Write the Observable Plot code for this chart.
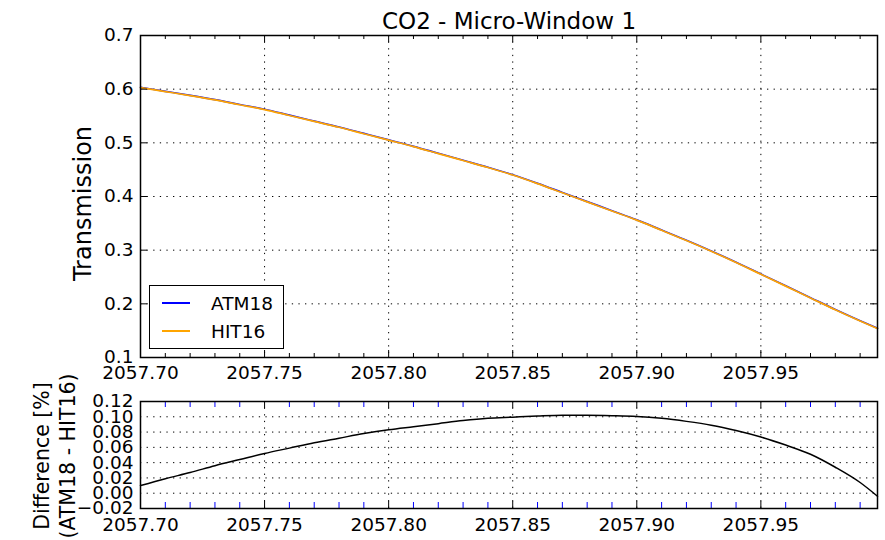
<!DOCTYPE html>
<html>
<head>
<meta charset="utf-8">
<script src="https://cdn.jsdelivr.net/npm/d3@7"></script>
<script src="https://cdn.jsdelivr.net/npm/@observablehq/plot@0.6"></script>
<style>
  html, body { margin: 0; padding: 0; background: white; }
  #wrap { position: relative; width: 885px; height: 540px; font-family: "DejaVu Sans", sans-serif; }
  #wrap svg { display: block; }
  #legend { position: absolute; left: 149px; top: 285px; width: 133px; height: 62px; border: 1.3px solid black; background: white; font-size: 18.5px; }
  .row { position: absolute; left: 0; height: 22px; display: flex; align-items: center; }
  .sw { width: 28px; height: 1.6px; margin-left: 12px; margin-right: 21px; }
</style>
</head>
<body>
<div id="wrap"></div>
<script>
// ---- data ----
const wavenumber = [2057.70,2057.71,2057.72,2057.73,2057.74,2057.75,2057.76,2057.77,2057.78,2057.79,
  2057.80,2057.81,2057.82,2057.83,2057.84,2057.85,2057.86,2057.87,2057.88,2057.89,
  2057.90,2057.91,2057.92,2057.93,2057.94,2057.95,2057.96,2057.97,2057.98,2057.99,2057.997];
const atm18 = [0.6035,0.5960,0.5885,0.5805,0.5715,0.5625,0.5515,0.5405,0.5295,0.5175,
  0.5055,0.4935,0.4805,0.4675,0.4545,0.4405,0.4245,0.4075,0.3905,0.3735,
  0.3565,0.3375,0.3185,0.2985,0.2775,0.2555,0.2335,0.2115,0.1895,0.1685,0.1545];
const hit16 = [0.6030,0.5955,0.5880,0.5800,0.5710,0.5620,0.5510,0.5400,0.5290,0.5170,
  0.5050,0.4930,0.4800,0.4670,0.4540,0.4400,0.4240,0.4070,0.3900,0.3730,
  0.3560,0.3370,0.3180,0.2980,0.2770,0.2550,0.2330,0.2110,0.1890,0.1680,0.1540];
const difference = [0.010,0.019,0.027,0.036,0.044,0.052,0.059,0.066,0.072,0.078,
  0.083,0.087,0.091,0.095,0.098,0.0995,0.101,0.102,0.102,0.1015,
  0.1005,0.098,0.094,0.089,0.082,0.0735,0.063,0.051,0.034,0.014,-0.004];

const xMajor = [2057.70,2057.75,2057.80,2057.85,2057.90,2057.95];
const xMinor = [2057.71,2057.72,2057.73,2057.74,2057.76,2057.77,2057.78,2057.79,
  2057.81,2057.82,2057.83,2057.84,2057.86,2057.87,2057.88,2057.89,
  2057.91,2057.92,2057.93,2057.94,2057.96,2057.97,2057.98,2057.99];
const yTopTicks = [0.1,0.2,0.3,0.4,0.5,0.6,0.7];
const yBotTicks = [-0.02,0.00,0.02,0.04,0.06,0.08,0.10,0.12];
const seriesNames = ["ATM18","HIT16"];
const seriesColors = ["#0000ff","#ffa500"];
const title = "CO2 - Micro-Window 1";
const yTopLabel = "Transmission";
const yBotLabel = "Difference [%]\n(ATM18 - HIT16)";

const topRows = wavenumber.map((w,i)=>({w, atm: atm18[i], hit: hit16[i]}));
const botRows = wavenumber.map((w,i)=>({w, d: difference[i]}));

const font = {fontFamily: "DejaVu Sans", fontSize: "18.5px", color: "black", background: "white", overflow: "visible"};
const grid = {stroke: "black", strokeOpacity: 1, strokeWidth: 1, strokeDasharray: "1.3,5.3"};
const xDomain = [2057.70, 2057.997];

// panel geometry
const W = 885, mL = 140, mR = 8;
const fw = W - mL - mR;
const topH = 380, topMT = 35, topMB = 23, topFH = topH - topMT - topMB;
const botH = 160, botMT = 21, botMB = 32, botFH = botH - botMT - botMB;

const topPlot = Plot.plot({
  width: W, height: topH, marginLeft: mL, marginRight: mR, marginTop: topMT, marginBottom: topMB,
  style: font,
  x: {domain: xDomain},
  y: {domain: [0.1, 0.7]},
  marks: [
    Plot.gridX(xMajor, grid),
    Plot.gridY(yTopTicks.slice(1, -1), grid),
    Plot.line(topRows, {x: "w", y: "atm", stroke: seriesColors[0], strokeWidth: 1.7, curve: "monotone-x"}),
    Plot.line(topRows, {x: "w", y: "hit", stroke: seriesColors[1], strokeWidth: 1.7, curve: "monotone-x"}),
    Plot.tickX(xMinor, {x: d => d, stroke: "black", insetTop: topFH - 4}),
    Plot.tickX(xMinor, {x: d => d, stroke: "black", insetBottom: topFH - 4}),
    Plot.tickX(xMajor, {x: d => d, stroke: "black", insetTop: topFH - 7}),
    Plot.tickX(xMajor, {x: d => d, stroke: "black", insetBottom: topFH - 7}),
    Plot.tickY(yTopTicks, {y: d => d, stroke: "black", insetRight: fw - 7}),
    Plot.tickY(yTopTicks, {y: d => d, stroke: "black", insetLeft: fw - 7}),
    Plot.axisX({ticks: xMajor, tickSize: 0, tickPadding: 8, tickFormat: d3.format(".2f"), label: null}),
    Plot.axisY({ticks: yTopTicks, tickSize: 0, tickPadding: 7, tickFormat: d3.format(".1f"), label: null}),
    Plot.frame({stroke: "black", strokeWidth: 1.5}),
    Plot.text([title], {frameAnchor: "top", textAnchor: "middle", lineAnchor: "middle", dy: -14, fontSize: 23}),
    Plot.text([yTopLabel], {frameAnchor: "left", textAnchor: "middle", lineAnchor: "middle", rotate: -90, dx: -57, dy: 7, fontSize: 24})
  ]
});

const botPlot = Plot.plot({
  width: W, height: botH, marginLeft: mL, marginRight: mR, marginTop: botMT, marginBottom: botMB,
  style: font,
  x: {domain: xDomain},
  y: {domain: [-0.02, 0.12]},
  marks: [
    Plot.gridX(xMajor, grid),
    Plot.gridY(yBotTicks.slice(1, -1), grid),
    Plot.line(botRows, {x: "w", y: "d", stroke: "black", strokeWidth: 1.5, curve: "monotone-x"}),
    Plot.tickX(xMinor, {x: d => d, stroke: "#0000ff", insetTop: botFH - 6}),
    Plot.tickX(xMinor, {x: d => d, stroke: "#0000ff", insetBottom: botFH - 6}),
    Plot.tickX(xMajor, {x: d => d, stroke: "black", insetTop: botFH - 7}),
    Plot.tickX(xMajor, {x: d => d, stroke: "black", insetBottom: botFH - 7}),
    Plot.axisX({ticks: xMajor, tickSize: 0, tickPadding: 9, tickFormat: d3.format(".2f"), label: null}),
    Plot.axisY({ticks: yBotTicks, tickSize: 0, tickPadding: 7, tickFormat: d3.format(".2f"), label: null}),
    Plot.frame({stroke: "black", strokeWidth: 1.5}),
    Plot.text([yBotLabel], {frameAnchor: "left", textAnchor: "middle", lineAnchor: "middle", rotate: -90, dx: -87, dy: 1, fontSize: 20.5, lineHeight: 1.28})
  ]
});

const wrap = document.getElementById("wrap");
wrap.appendChild(topPlot);
wrap.appendChild(botPlot);

// legend
const legend = document.createElement("div");
legend.id = "legend";
seriesNames.forEach((name, i) => {
  const row = document.createElement("div");
  row.className = "row";
  row.style.top = (6 + i * 28) + "px";
  const sw = document.createElement("div");
  sw.className = "sw";
  sw.style.background = seriesColors[i];
  const lab = document.createElement("span");
  lab.textContent = name;
  row.appendChild(sw);
  row.appendChild(lab);
  legend.appendChild(row);
});
wrap.appendChild(legend);
</script>
</body>
</html>
